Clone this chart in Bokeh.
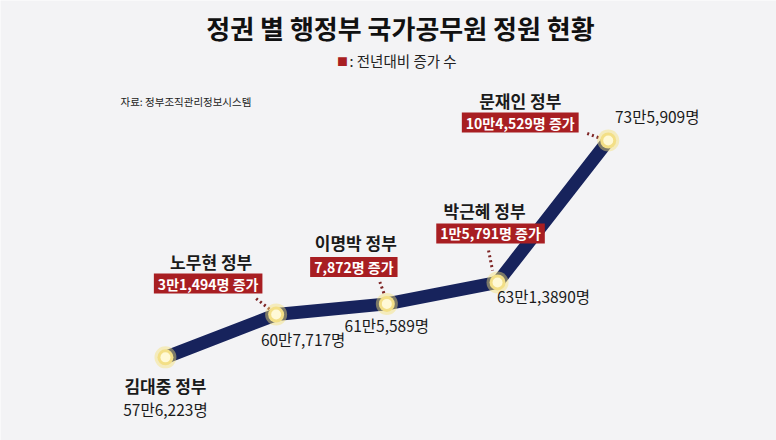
from bokeh.plotting import figure
from bokeh.models import Range1d, Label, ColumnDataSource
from bokeh.embed import file_html
from bokeh.resources import INLINE

# ---- data ----
governments = ["김대중 정부", "노무현 정부", "이명박 정부", "박근혜 정부", "문재인 정부"]
staff = [576223, 607717, 615589, 631390, 735909]
staff_labels = ["57만6,223명", "60만7,717명", "61만5,589명", "63만1,3890명", "73만5,909명"]
increase_labels = [None, "3만1,494명 증가", "7,872명 증가", "1만5,791명 증가", "10만4,529명 증가"]
title_text = "정권 별 행정부 국가공무원 정원 현황"
legend_text = ": 전년대비 증가 수"
source_text = "자료: 정부조직관리정보시스템"

# ---- layout / style ----
W, H = 776, 440
XR = (-1.49, 5.52)
YR = (515000, 839000)
FONT = "Noto Sans CJK KR"
BG = "#f3f3f5"
RED = "#a81e22"
NAVY = "#17235c"

# pixel offsets (dx right, dy down) relative to each point
name_off = [(0, 28), (-65, -53), (-31, -61), (-13, -72), (-88, -40)]
box_off = [None, (-68, -31), (-33, -37), (-7, -49), (-88, -18)]
val_off = [(0, 52), (27, 24), (0, 21), (46, 14), (49, -25)]
leader_off = [None, ((-20, -16), (-6, -5)), ((-7, -22), (-2, -8)),
              ((-9, -32), (-5, -12)), ((-21, -7), (-5, -1))]

pxx = W / (XR[1] - XR[0])
pxy = H / (YR[1] - YR[0])

xs = list(range(len(staff)))
src = ColumnDataSource(dict(x=xs, y=staff))

p = figure(width=W, height=H, x_range=Range1d(*XR), y_range=Range1d(*YR),
           output_backend="svg", toolbar_location=None, min_border=0)
p.axis.visible = False
p.grid.visible = False
p.outline_line_color = None
p.background_fill_color = BG
p.border_fill_color = BG

# leader dotted lines
x0s, y0s, x1s, y1s = [], [], [], []
for i, lo in enumerate(leader_off):
    if lo is None:
        continue
    (ax, ay), (bx, by) = lo
    x0s.append(xs[i] + ax / pxx); y0s.append(staff[i] - ay / pxy)
    x1s.append(xs[i] + bx / pxx); y1s.append(staff[i] - by / pxy)
p.segment(x0s, y0s, x1s, y1s, line_color="#7d2424", line_width=3, line_dash="2 3")

# main line
p.line("x", "y", source=src, line_color=NAVY, line_width=13, line_join="round", line_cap="round")
# markers with glow
p.scatter("x", "y", source=src, size=22, fill_color="#f6e27a", fill_alpha=0.45, line_color=None)
p.scatter("x", "y", source=src, size=16, fill_color="#f3df86", line_color=None)
p.scatter("x", "y", source=src, size=10, fill_color="#fff9d6", line_color=None)

for i in xs:
    dx, dy = name_off[i]
    p.add_layout(Label(x=xs[i], y=staff[i], x_offset=dx, y_offset=-dy, text=governments[i],
                       text_font=FONT, text_font_size="17px", text_font_style="bold",
                       text_color="#1a1a1a", text_align="center", text_baseline="middle"))
    dx, dy = val_off[i]
    p.add_layout(Label(x=xs[i], y=staff[i], x_offset=dx, y_offset=-dy, text=staff_labels[i],
                       text_font=FONT, text_font_size="15.5px", text_font_style="normal",
                       text_color="#1a1a1a", text_align="center", text_baseline="middle"))
    if increase_labels[i]:
        dx, dy = box_off[i]
        p.add_layout(Label(x=xs[i], y=staff[i], x_offset=dx, y_offset=-dy, text=increase_labels[i],
                           text_font=FONT, text_font_size="14px", text_font_style="bold",
                           text_color="white", text_align="center", text_baseline="middle",
                           background_fill_color=RED, padding=(4, 0)))

# title, legend, source
p.add_layout(Label(x=400, y=H - 27, x_units="screen", y_units="screen", text=title_text,
                   text_font=FONT, text_font_size="26px", text_font_style="bold",
                   text_color="#111111", text_align="center", text_baseline="middle"))
p.add_layout(Label(x=342, y=H - 60, x_units="screen", y_units="screen", text="■",
                   text_font=FONT, text_font_size="11px", text_color=RED,
                   text_align="center", text_baseline="middle"))
p.add_layout(Label(x=349, y=H - 60, x_units="screen", y_units="screen", text=legend_text,
                   text_font=FONT, text_font_size="14.5px", text_color="#222222",
                   text_align="left", text_baseline="middle"))
p.add_layout(Label(x=120, y=H - 101, x_units="screen", y_units="screen", text=source_text,
                   text_font=FONT, text_font_size="10.5px", text_color="#222222",
                   text_align="left", text_baseline="middle"))

open("out.html", "w").write(file_html(p, INLINE))
